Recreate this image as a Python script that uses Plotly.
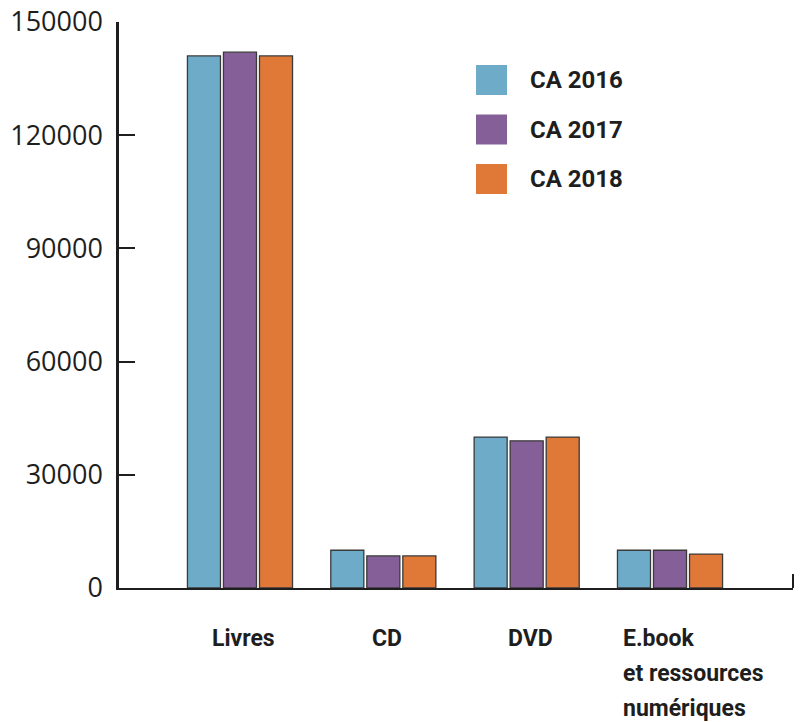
import plotly.graph_objects as go

categories = ["Livres", "CD", "DVD", "E.book\net ressources\nnumériques"]
series_names = ["CA 2016", "CA 2017", "CA 2018"]
ca_2016 = [141000, 10000, 40000, 10000]
ca_2017 = [142000, 8500, 39000, 10000]
ca_2018 = [141000, 8500, 40000, 9000]
y_ticks = [0, 30000, 60000, 90000, 120000, 150000]

colors = ["#6eabc9", "#855f98", "#e07838"]
values = [ca_2016, ca_2017, ca_2018]
ink = "#1e1e1e"

x_idx = list(range(len(categories)))

fig = go.Figure()
for name, vals, col in zip(series_names, values, colors):
    fig.add_trace(go.Bar(
        x=x_idx, y=vals, name=name,
        marker=dict(color=col, line=dict(color="#3a3a3a", width=1.3)),
        showlegend=False,
    ))

W, H = 800, 722
ml, mt = 119, 22
mr = W - 793
mb = H - 588
pw = W - ml - mr
ph = H - mt - mb

annotations = []
# category labels
for i, lab in enumerate(categories):
    lines = lab.split("\n")
    multi = len(lines) > 1
    for j, line in enumerate(lines):
        annotations.append(dict(
            x=i, xref="x", y=0, yref="paper",
            text=line, showarrow=False,
            xanchor="left" if multi else "center",
            yanchor="middle",
            xshift=-49 if multi else 4,
            yshift=-50 - 35 * j,
            font=dict(family="Roboto", size=23, color=ink, weight="bold"),
        ))

shapes = []
# custom legend
for k, (name, col) in enumerate(zip(series_names, colors)):
    yc = 1 - (80 + 49.5 * k - mt) / ph
    half = 15 / ph
    shapes.append(dict(type="rect", xref="paper", yref="paper",
                       x0=(476 - ml) / pw, x1=(507 - ml) / pw,
                       y0=yc - half, y1=yc + half,
                       fillcolor=col, line=dict(width=0)))
    annotations.append(dict(x=(528 - ml) / pw, xref="paper", y=yc, yref="paper",
                            text=name, showarrow=False, xanchor="left", yanchor="middle",
                            font=dict(family="Roboto", size=24, color=ink, weight="bold")))

# right-end tick of x axis
shapes.append(dict(type="line", xref="paper", yref="paper", x0=1, x1=1,
                   y0=0, y1=14 / ph, line=dict(color=ink, width=2)))

fig.update_layout(
    width=W, height=H,
    margin=dict(l=ml, r=mr, t=mt, b=mb, pad=0, autoexpand=False),
    paper_bgcolor="white", plot_bgcolor="white",
    barmode="group", bargap=0.246, bargroupgap=0.083,
    showlegend=False,
    xaxis=dict(range=[-0.844, 3.858], showticklabels=False, ticks="",
               showgrid=False, zeroline=False, showline=True, automargin=False,
               linecolor=ink, linewidth=2),
    yaxis=dict(range=[0, 150000], tickvals=y_ticks,
               ticktext=[str(v) for v in y_ticks], automargin=False,
               ticks="inside", ticklen=16, tickwidth=2, tickcolor=ink,
               showgrid=False, zeroline=False, showline=True,
               linecolor=ink, linewidth=2.5,
               ticklabelstandoff=8, ticklabeloverflow="allow",
               tickfont=dict(family="Open Sans", size=27, color=ink)),
    annotations=annotations, shapes=shapes,
)

# remove the default page margin so the 800x722 figure fills the window exactly
fig.write_html("out.html",
               config={"displayModeBar": False},
               post_script="document.body.style.margin='0';document.body.style.overflow='hidden';")
